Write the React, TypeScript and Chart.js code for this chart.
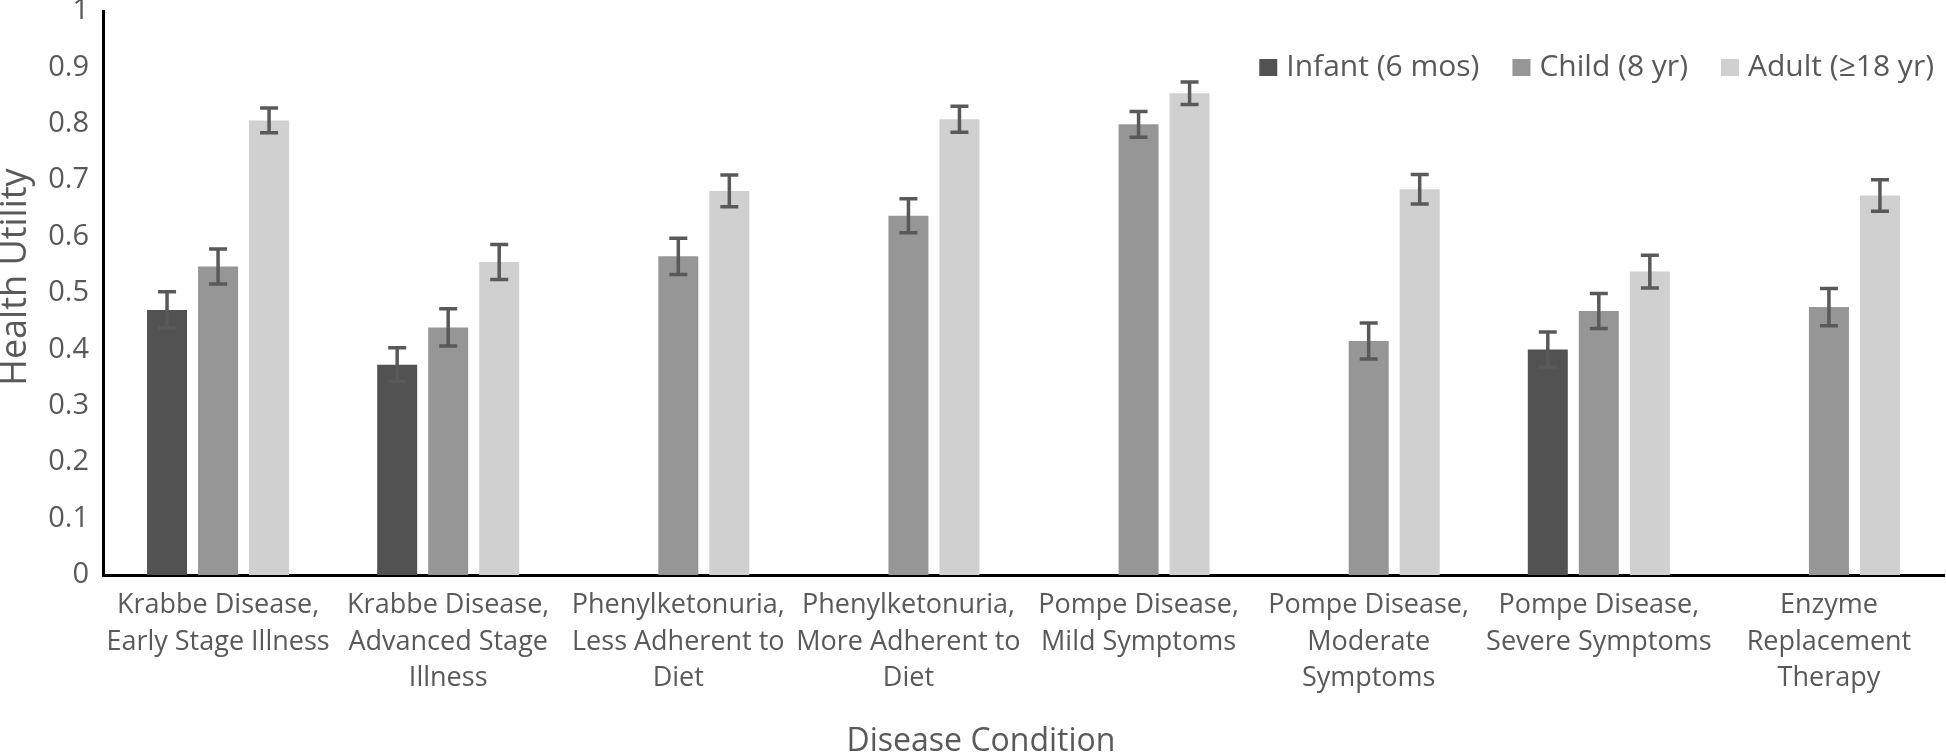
import React, { useEffect, useRef } from "react";
import { Chart, registerables } from "chart.js";

Chart.register(...registerables);

const categories: string[][] = [
  ["Krabbe Disease,", "Early Stage Illness"],
  ["Krabbe Disease,", "Advanced Stage", "Illness"],
  ["Phenylketonuria,", "Less Adherent to", "Diet"],
  ["Phenylketonuria,", "More Adherent to", "Diet"],
  ["Pompe Disease,", "Mild Symptoms"],
  ["Pompe Disease,", "Moderate", "Symptoms"],
  ["Pompe Disease,", "Severe Symptoms"],
  ["Enzyme", "Replacement", "Therapy"],
];

const seriesNames = ["Infant (6 mos)", "Child (8 yr)", "Adult (\u226518 yr)"];

const infantValues = [0.47, 0.373, null, null, null, null, 0.4, null];
const childValues = [0.547, 0.439, 0.565, 0.637, 0.799, 0.415, 0.468, 0.475];
const adultValues = [0.806, 0.555, 0.681, 0.808, 0.854, 0.684, 0.538, 0.673];

const infantErrors = [0.032, 0.03, null, null, null, null, 0.031, null];
const childErrors = [0.031, 0.033, 0.032, 0.03, 0.023, 0.032, 0.031, 0.033];
const adultErrors = [0.022, 0.031, 0.028, 0.023, 0.02, 0.026, 0.029, 0.028];

const yTicks = [0, 0.1, 0.2, 0.3, 0.4, 0.5, 0.6, 0.7, 0.8, 0.9, 1];

const xTitle = "Disease Condition";
const yTitle = "Health Utility";

const seriesColors = ["#525252", "#969696", "#d0d0d0"];
const textColor = "#595959";
const FONT = "'Open Sans', sans-serif";

const errorBarPlugin = {
  id: "errorBars",
  afterDatasetsDraw(chart: any) {
    const ctx = chart.ctx;
    const yScale = chart.scales.y;
    ctx.save();
    ctx.strokeStyle = "#595959";
    ctx.lineWidth = 3.5;
    chart.data.datasets.forEach((ds: any, di: number) => {
      const meta = chart.getDatasetMeta(di);
      const errs = ds.errors as (number | null)[];
      meta.data.forEach((bar: any, i: number) => {
        const v = ds.data[i];
        const e = errs[i];
        if (v == null || e == null) return;
        const x = bar.x;
        const yTop = yScale.getPixelForValue(v + e);
        const yBot = yScale.getPixelForValue(v - e);
        const cap = 9;
        ctx.beginPath();
        ctx.moveTo(x, yTop);
        ctx.lineTo(x, yBot);
        ctx.moveTo(x - cap, yTop);
        ctx.lineTo(x + cap, yTop);
        ctx.moveTo(x - cap, yBot);
        ctx.lineTo(x + cap, yBot);
        ctx.stroke();
      });
    });
    ctx.restore();
  },
};

const decorPlugin = {
  id: "decor",
  afterDraw(chart: any) {
    const ctx = chart.ctx;
    ctx.save();
    ctx.fillStyle = textColor;
    ctx.textBaseline = "middle";

    // axis titles
    ctx.font = `32px ${FONT}`;
    ctx.textAlign = "center";
    ctx.fillText(xTitle, 981, 742);

    ctx.save();
    ctx.translate(16, 277);
    ctx.rotate(-Math.PI / 2);
    ctx.font = `36px ${FONT}`;
    ctx.fillText(yTitle, 0, 0);
    ctx.restore();

    // legend, right-aligned in the plot area
    ctx.font = `30px ${FONT}`;
    ctx.textAlign = "left";
    const box = 18;
    const boxGap = 9;
    const itemGap = 33;
    const widths = seriesNames.map((n) => ctx.measureText(n).width);
    const total =
      widths.reduce((a, w) => a + box + boxGap + w, 0) + itemGap * (seriesNames.length - 1);
    let x = 1934 - total;
    const yc = 67;
    seriesNames.forEach((name, i) => {
      ctx.fillStyle = seriesColors[i];
      ctx.fillRect(x, yc - box / 2 + 1, box, box - 1);
      ctx.fillStyle = textColor;
      ctx.fillText(name, x + box + boxGap, yc);
      x += box + boxGap + widths[i] + itemGap;
    });
    ctx.restore();
  },
};

export default function App() {
  const canvasRef = useRef<HTMLCanvasElement | null>(null);

  useEffect(() => {
    document.body.style.margin = "0";
    const canvas = canvasRef.current;
    if (!canvas) return;
    const chart = new Chart(canvas, {
      type: "bar",
      data: {
        labels: categories,
        datasets: [
          { label: seriesNames[0], data: infantValues, errors: infantErrors, backgroundColor: seriesColors[0] } as any,
          { label: seriesNames[1], data: childValues, errors: childErrors, backgroundColor: seriesColors[1] } as any,
          { label: seriesNames[2], data: adultValues, errors: adultErrors, backgroundColor: seriesColors[2] } as any,
        ],
      },
      options: {
        animation: false,
        responsive: false,
        maintainAspectRatio: false,
        datasets: {
          bar: { categoryPercentage: 0.665, barPercentage: 0.784 },
        },
        layout: { padding: { top: 11, right: 2, left: 0, bottom: 0 } },
        plugins: {
          tooltip: { enabled: false },
          legend: { display: false },
        },
        scales: {
          x: {
            grid: { display: false, drawTicks: false },
            border: { display: true, color: "#000000", width: 3 },
            ticks: {
              color: textColor,
              font: { family: FONT, size: 27, lineHeight: 1.36 },
              padding: 12,
              maxRotation: 0,
              autoSkip: false,
            },
            afterFit: (s: any) => {
              s.height = 180;
              s.paddingLeft = 0;
              s.paddingRight = 0;
            },
          },
          y: {
            min: 0,
            max: 1,
            afterBuildTicks: (s: any) => {
              s.ticks = yTicks.map((v) => ({ value: v }));
            },
            grid: { display: false, drawTicks: false },
            border: { display: true, color: "#000000", width: 3 },
            ticks: {
              color: textColor,
              font: { family: FONT, size: 29 },
              padding: 14,
              callback: (v: any) => String(Math.round(Number(v) * 10) / 10),
            },
            afterFit: (s: any) => {
              s.width = 103;
              s.paddingTop = 0;
              s.paddingBottom = 0;
            },
          },
        },
      },
      plugins: [errorBarPlugin, decorPlugin],
    });
    return () => chart.destroy();
  }, []);

  return (
    <div style={{ width: 1946, height: 755, position: "relative", background: "#ffffff" }}>
      <canvas ref={canvasRef} width={1946} height={755} style={{ display: "block", width: 1946, height: 755 }} />
    </div>
  );
}
